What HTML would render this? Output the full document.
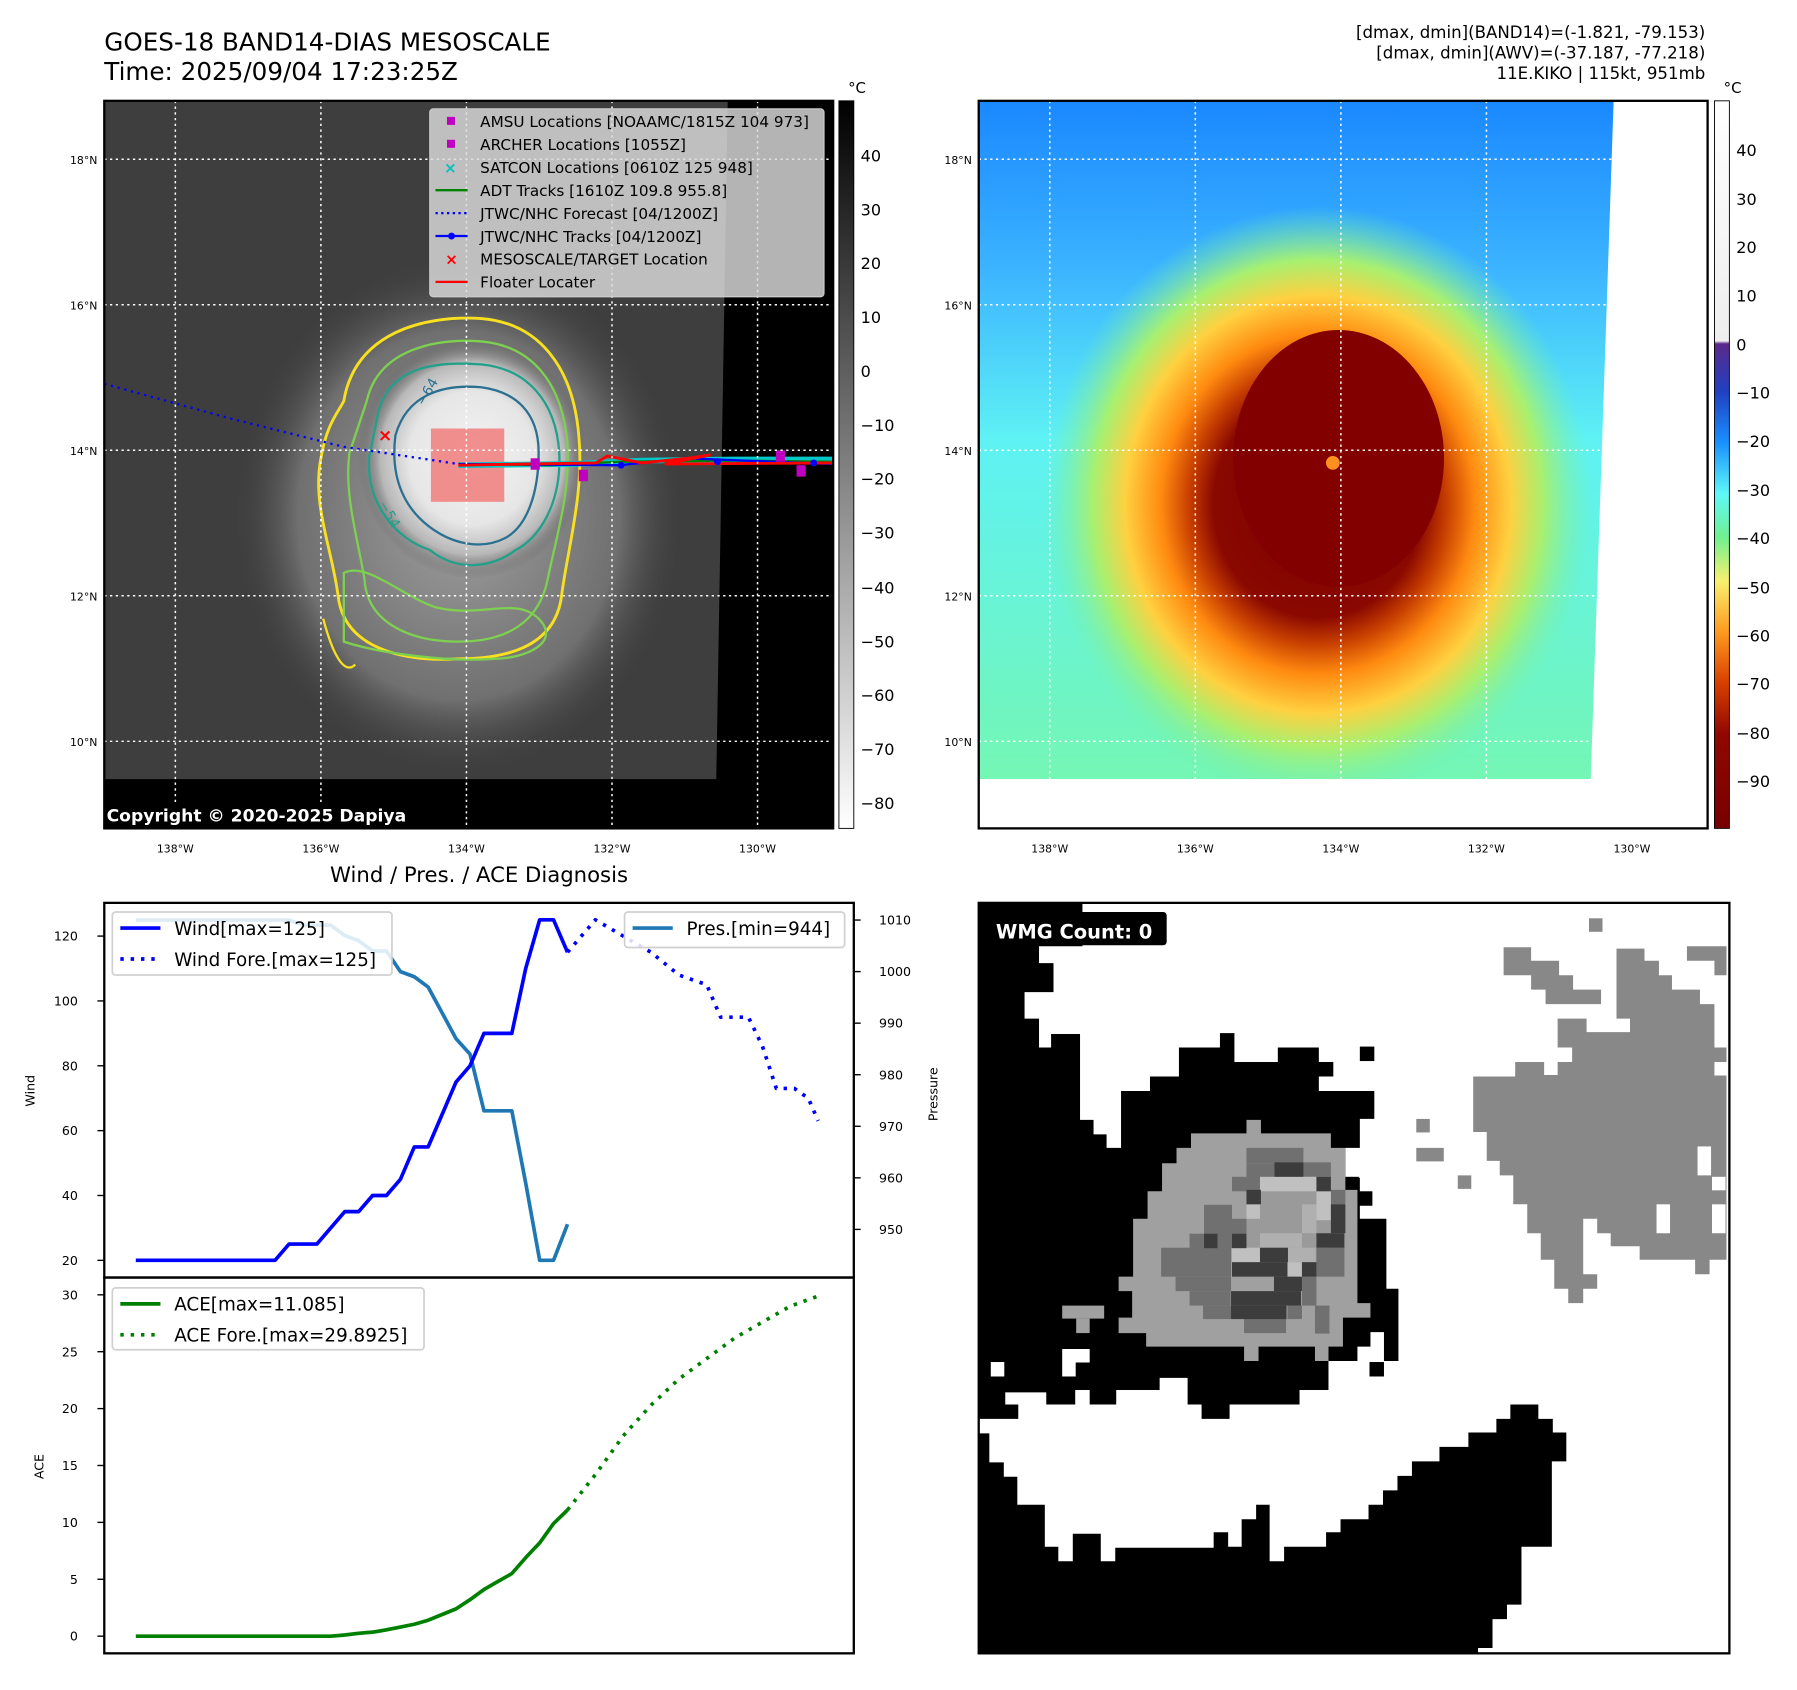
<!DOCTYPE html>
<html><head><meta charset="utf-8"><style>
html,body{margin:0;padding:0;background:#fff;}
svg{display:block;font-family:"DejaVu Sans","Liberation Sans",sans-serif;}
</style></head><body>
<svg id="root" width="1797" height="1690" viewBox="0 0 1568 1475" preserveAspectRatio="none" xmlns="http://www.w3.org/2000/svg">
<defs>
<radialGradient id="core" cx="0.5" cy="0.5" r="0.5">
<stop offset="0" stop-color="#f4f4f4"/><stop offset="0.55" stop-color="#e6e6e6"/><stop offset="0.8" stop-color="#b8b8b8"/><stop offset="1" stop-color="#5a5a5a" stop-opacity="0"/></radialGradient>
<radialGradient id="halo" cx="0.5" cy="0.5" r="0.5">
<stop offset="0" stop-color="#a0a0a0"/><stop offset="0.7" stop-color="#707070"/><stop offset="1" stop-color="#3c3c3c" stop-opacity="0"/></radialGradient>
<linearGradient id="cb1" x1="0" y1="0" x2="0" y2="1"><stop offset="0" stop-color="#000"/><stop offset="1" stop-color="#fff"/></linearGradient>
<linearGradient id="bgcol" x1="0" y1="0" x2="0" y2="1">
<stop offset="0" stop-color="#1a88ff"/><stop offset="0.25" stop-color="#3cb4ff"/><stop offset="0.5" stop-color="#5ef2f4"/><stop offset="1" stop-color="#74f6b4"/></linearGradient>
<radialGradient id="storm" cx="0.5" cy="0.5" r="0.5">
<stop offset="0" stop-color="#7a0000"/><stop offset="0.38" stop-color="#8a0800"/><stop offset="0.47" stop-color="#c84000"/><stop offset="0.57" stop-color="#ff8a10"/><stop offset="0.7" stop-color="#ffd040"/><stop offset="0.82" stop-color="#a8f070"/><stop offset="1" stop-color="#70f0b0" stop-opacity="0"/></radialGradient>
<linearGradient id="cb2" x1="0" y1="0" x2="0" y2="1">
<stop offset="0" stop-color="#ffffff"/><stop offset="0.33" stop-color="#eeeeee"/><stop offset="0.334" stop-color="#5a2a8a"/><stop offset="0.4" stop-color="#2040c0"/><stop offset="0.47" stop-color="#1a90ff"/><stop offset="0.54" stop-color="#5ef8f8"/><stop offset="0.6" stop-color="#70f090"/><stop offset="0.66" stop-color="#f8f070"/><stop offset="0.73" stop-color="#ff9a20"/><stop offset="0.8" stop-color="#d84000"/><stop offset="0.87" stop-color="#900800"/><stop offset="1" stop-color="#780000"/></linearGradient>
</defs>

<text x="91" y="44" font-size="21.5">GOES-18 BAND14-DIAS MESOSCALE</text>
<text x="91" y="70" font-size="21.5">Time: 2025/09/04 17:23:25Z</text>
<g font-size="14.5" text-anchor="end">
<text x="1488" y="33">[dmax, dmin](BAND14)=(-1.821, -79.153)</text>
<text x="1488" y="51">[dmax, dmin](AWV)=(-37.187, -77.218)</text>
<text x="1488" y="69">11E.KIKO | 115kt, 951mb</text>
</g>

<g>
<rect x="91" y="88" width="636" height="635" fill="#000"/>
<polygon points="91,88 635,88 625,680 91,680" fill="#3e3e3e"/>
<ellipse cx="400" cy="450" rx="200" ry="230" fill="url(#halo)"/>
<ellipse cx="412" cy="400" rx="100" ry="105" fill="url(#core)"/>
<path d="M300,350 C310,290 370,275 420,278 C470,282 500,320 505,380 C510,430 495,480 490,520 C485,560 450,575 400,575 C350,578 300,565 295,520 C290,480 272,440 280,400 C285,370 295,360 300,350Z" fill="none" stroke="#f8e020" stroke-width="2.5"/>
<path d="M320,350 C330,305 380,295 420,298 C465,302 490,335 495,385 C498,430 485,470 478,505 C470,545 440,560 400,560 C360,560 320,545 318,505 C312,470 300,430 305,395Z" fill="none" stroke="#7ed050" stroke-width="2"/>
<path d="M330,360 C340,320 380,315 420,318 C460,322 485,350 488,395 C490,440 470,470 450,480 C430,495 400,500 375,480 C345,470 320,440 322,400Z" fill="none" stroke="#22a08a" stroke-width="2"/>
<path d="M345,380 C355,345 385,335 420,338 C450,342 470,360 470,395 C470,430 460,460 440,470 C420,480 395,475 375,460 C355,445 340,420 345,380Z" fill="none" stroke="#2a7090" stroke-width="2"/>
<path d="M300,500 C320,490 350,520 380,530 C420,540 450,520 470,540 C490,560 460,575 430,575 C390,578 330,570 300,560Z" fill="none" stroke="#7ed050" stroke-width="2"/>
<path d="M282,540 C290,570 300,590 310,580" fill="none" stroke="#f8e020" stroke-width="2"/>
<rect x="376" y="374" width="64" height="64" fill="#f08080" opacity="0.88"/>
<polyline points="91,335 200,365 300,390 400,405" fill="none" stroke="#0000ff" stroke-width="2" stroke-dasharray="2,4"/>
<polyline points="400,406 500,405 560,402 640,401 727,401" fill="none" stroke="#00c8c8" stroke-width="5"/>
<polyline points="400,405 480,406 540,403 640,402 727,403" fill="none" stroke="#008000" stroke-width="2"/>
<polyline points="400,405 540,406 600,400 650,402 727,405" fill="none" stroke="#0000ff" stroke-width="2"/>
<polyline points="400,406 520,404 530,398 560,404 600,400 620,397 580,405 727,404" fill="none" stroke="#ff0000" stroke-width="2.5"/>
<g fill="#c000c0"><rect x="463" y="400" width="8" height="10"/><rect x="505" y="410" width="8" height="10"/><rect x="677" y="393" width="8" height="10"/><rect x="695" y="406" width="8" height="10"/></g>
<g fill="#0000ff"><circle cx="542" cy="406" r="3"/><circle cx="626" cy="403" r="3"/><circle cx="710" cy="404" r="3"/></g>
<text x="336" y="385" font-size="15" fill="#ff0000" text-anchor="middle" font-weight="bold">×</text>
<text x="370" y="355" font-size="12" fill="#2a7090" transform="rotate(-60 370 355)">−64</text>
<text x="330" y="440" font-size="12" fill="#22a08a" transform="rotate(60 330 440)">−54</text>
<g stroke="#fff" stroke-width="1.3" stroke-dasharray="2,3">
<line x1="153" y1="88" x2="153" y2="723"/><line x1="280" y1="88" x2="280" y2="723"/><line x1="407" y1="88" x2="407" y2="723"/><line x1="534" y1="88" x2="534" y2="723"/><line x1="661" y1="88" x2="661" y2="723"/>
<line x1="91" y1="139" x2="727" y2="139"/><line x1="91" y1="266" x2="727" y2="266"/><line x1="91" y1="393" x2="727" y2="393"/><line x1="91" y1="520" x2="727" y2="520"/><line x1="91" y1="647" x2="727" y2="647"/>
</g>
<rect x="91" y="700" width="268" height="23" fill="#000"/>
<text x="93" y="717" font-size="15" font-weight="bold" fill="#fff">Copyright © 2020-2025 Dapiya</text>
<rect x="91" y="88" width="636" height="635" fill="none" stroke="#000" stroke-width="2"/>
</g>
<g font-size="13.3">
<rect x="375" y="95" width="344" height="164" rx="3" fill="#dcdcdc" fill-opacity="0.82" stroke="#ccc"/>
<rect x="390" y="102" width="7" height="7" fill="#c000c0"/><text x="419" y="111">AMSU Locations [NOAAMC/1815Z 104 973]</text>
<rect x="390" y="122" width="7" height="7" fill="#c000c0"/><text x="419" y="131">ARCHER Locations [1055Z]</text>
<text x="393" y="151" fill="#00c0c0" text-anchor="middle" font-weight="bold">×</text><text x="419" y="151">SATCON Locations [0610Z 125 948]</text>
<line x1="380" y1="166" x2="408" y2="166" stroke="#008000" stroke-width="2"/><text x="419" y="171">ADT Tracks [1610Z 109.8 955.8]</text>
<line x1="380" y1="186" x2="408" y2="186" stroke="#0000ff" stroke-width="2" stroke-dasharray="2,3"/><text x="419" y="191">JTWC/NHC Forecast [04/1200Z]</text>
<line x1="380" y1="206" x2="408" y2="206" stroke="#0000ff" stroke-width="2"/><circle cx="394" cy="206" r="3" fill="#0000ff"/><text x="419" y="211">JTWC/NHC Tracks [04/1200Z]</text>
<text x="394" y="231" fill="#ff0000" text-anchor="middle" font-weight="bold">×</text><text x="419" y="231">MESOSCALE/TARGET Location</text>
<line x1="380" y1="246" x2="408" y2="246" stroke="#ff0000" stroke-width="2"/><text x="419" y="251">Floater Locater</text>
</g>
<g font-size="9.5">
<g text-anchor="end"><text x="85" y="143">18°N</text><text x="85" y="270">16°N</text><text x="85" y="397">14°N</text><text x="85" y="524">12°N</text><text x="85" y="651">10°N</text>
<text x="848" y="143">18°N</text><text x="848" y="270">16°N</text><text x="848" y="397">14°N</text><text x="848" y="524">12°N</text><text x="848" y="651">10°N</text></g>
<g text-anchor="middle"><text x="153" y="744">138°W</text><text x="280" y="744">136°W</text><text x="407" y="744">134°W</text><text x="534" y="744">132°W</text><text x="661" y="744">130°W</text>
<text x="916" y="744">138°W</text><text x="1043" y="744">136°W</text><text x="1170" y="744">134°W</text><text x="1297" y="744">132°W</text><text x="1424" y="744">130°W</text></g>
</g>
<g font-size="14">
<rect x="732" y="88" width="13" height="635" fill="url(#cb1)" stroke="#000" stroke-width="0.8"/>
<text x="740" y="81" font-size="13">°C</text>
<text x="751" y="141">40</text><text x="751" y="188">30</text><text x="751" y="235">20</text><text x="751" y="282">10</text><text x="751" y="329">0</text><text x="751" y="376">−10</text><text x="751" y="423">−20</text><text x="751" y="470">−30</text><text x="751" y="518">−40</text><text x="751" y="565">−50</text><text x="751" y="612">−60</text><text x="751" y="659">−70</text><text x="751" y="706">−80</text>
</g>

<g>
<clipPath id="cm"><polygon points="854,88 1408,88 1388,680 854,680"/></clipPath>
<g clip-path="url(#cm)">
<rect x="854" y="88" width="554" height="592" fill="url(#bgcol)"/>
<ellipse cx="1150" cy="440" rx="240" ry="260" fill="url(#storm)"/>
<ellipse cx="1168" cy="400" rx="92" ry="112" fill="#820000"/>
<circle cx="1163" cy="404" r="6" fill="#ff9020"/>
</g>
<g stroke="#fff" stroke-width="1.3" stroke-dasharray="2,3">
<line x1="916" y1="88" x2="916" y2="680"/><line x1="1043" y1="88" x2="1043" y2="680"/><line x1="1170" y1="88" x2="1170" y2="680"/><line x1="1297" y1="88" x2="1297" y2="680"/><line x1="1424" y1="88" x2="1424" y2="110"/>
<line x1="854" y1="139" x2="1408" y2="139"/><line x1="854" y1="266" x2="1402" y2="266"/><line x1="854" y1="393" x2="1398" y2="393"/><line x1="854" y1="520" x2="1394" y2="520"/><line x1="854" y1="647" x2="1389" y2="647"/>
</g>
<rect x="854" y="88" width="636" height="635" fill="none" stroke="#000" stroke-width="2"/>
</g>
<g font-size="14">
<rect x="1496" y="88" width="13" height="635" fill="url(#cb2)" stroke="#000" stroke-width="0.8"/>
<text x="1504" y="81" font-size="13">°C</text>
<text x="1515" y="136">40</text><text x="1515" y="179">30</text><text x="1515" y="221">20</text><text x="1515" y="263">10</text><text x="1515" y="306">0</text><text x="1515" y="348">−10</text><text x="1515" y="390">−20</text><text x="1515" y="433">−30</text><text x="1515" y="475">−40</text><text x="1515" y="518">−50</text><text x="1515" y="560">−60</text><text x="1515" y="602">−70</text><text x="1515" y="645">−80</text><text x="1515" y="687">−90</text>
</g>

<text x="418" y="770" font-size="18.5" text-anchor="middle">Wind / Pres. / ACE Diagnosis</text>
<g id="charts"></g>

<g>
<svg x="854" y="788" width="655" height="655" viewBox="0 0 1556 1556" preserveAspectRatio="none">
<rect width="1556" height="1556" fill="#fff"/>
<polygon fill="#000" points="0,0 215,0 215,90 125,90 125,125 155,125 155,185 95,185 95,240 125,240 125,300 150,300 150,272 210,272 210,450 238,450 238,480 265,480 265,508 295,508 295,390 355,390 355,360 415,360 415,300 500,300 500,270 530,270 530,330 620,330 620,300 705,300 705,330 735,330 735,360 705,360 705,390 820,390 820,448 790,448 790,508 760,508 760,570 790,570 790,655 845,655 845,800 870,800 870,950 840,950 840,890 812,890 812,920 785,920 785,950 725,950 725,1010 665,1010 665,1040 520,1040 520,1070 462,1070 462,1040 433,1040 433,985 375,985 375,1010 285,1010 285,1040 230,1040 230,1010 200,1010 200,1040 140,1040 140,1015 55,1015 55,1040 82,1040 82,1070 0,1070"/>
<polygon fill="#000" points="0,1100 22,1100 22,1160 52,1160 52,1190 80,1190 80,1248 137,1248 137,1335 165,1335 165,1365 195,1365 195,1308 253,1308 253,1365 283,1365 283,1337 487,1337 487,1305 517,1305 517,1335 545,1335 545,1278 575,1278 575,1248 603,1248 603,1365 633,1365 633,1335 720,1335 720,1305 750,1305 750,1278 808,1278 808,1248 838,1248 838,1218 868,1218 868,1188 898,1188 898,1158 955,1158 955,1128 1015,1128 1015,1098 1073,1098 1073,1070 1102,1070 1102,1040 1160,1040 1160,1070 1190,1070 1190,1098 1218,1098 1218,1158 1188,1158 1188,1335 1125,1335 1125,1455 1095,1455 1095,1485 1065,1485 1065,1545 1035,1545 1035,1556 0,1556"/>
<g fill="#fff"><rect x="25" y="952" width="28" height="30"/><rect x="173" y="925" width="57" height="28"/><rect x="173" y="952" width="28" height="30"/></g>
<g fill="#000"><rect x="790" y="298" width="30" height="30"/><rect x="760" y="568" width="28" height="30"/><rect x="788" y="598" width="28" height="30"/><rect x="810" y="952" width="30" height="30"/></g>
<g fill="#888">
<polygon points="1025,360 1112,360 1112,330 1172,330 1172,357 1200,357 1200,330 1230,330 1230,300 1200,300 1200,240 1260,240 1260,268 1350,268 1350,240 1322,240 1322,95 1380,95 1380,120 1410,120 1410,150 1437,150 1437,180 1495,180 1495,210 1525,210 1525,300 1550,300 1550,740 1515,740 1515,770 1485,770 1485,740 1370,740 1370,712 1310,712 1310,685 1282,685 1282,655 1253,655 1253,770 1282,770 1282,800 1253,800 1253,830 1222,830 1222,800 1193,800 1193,740 1165,740 1165,685 1137,685 1137,625 1108,625 1108,565 1080,565 1080,535 1053,535 1053,475 1025,475"/>
<polygon points="1088,92 1145,92 1145,120 1203,120 1203,150 1232,150 1232,180 1290,180 1290,210 1175,210 1175,180 1145,180 1145,150 1088,150"/>
<polygon points="1468,90 1550,90 1550,150 1525,150 1525,120 1468,120"/>
<rect x="1265" y="32" width="28" height="28"/><rect x="907" y="448" width="28" height="28"/><rect x="907" y="508" width="57" height="28"/><rect x="993" y="565" width="28" height="28"/>
</g>
<g fill="#fff"><rect x="1490" y="505" width="28" height="60"/><rect x="1520" y="568" width="28" height="28"/><rect x="1405" y="625" width="28" height="60"/><rect x="1520" y="625" width="28" height="60"/><rect x="1525" y="330" width="25" height="28"/></g>
<polygon fill="#a0a0a0" points="555,450 585,450 585,478 730,478 730,508 760,508 760,595 785,595 785,830 812,830 812,860 755,860 755,920 725,920 725,950 697,950 697,920 580,920 580,950 550,950 550,920 347,920 347,892 290,892 290,860 318,860 318,805 290,805 290,775 320,775 320,655 350,655 350,598 380,598 380,540 410,540 410,508 440,508 440,478 555,478"/>
<rect x="173" y="835" width="87" height="27" fill="#a0a0a0"/><rect x="202" y="862" width="28" height="30" fill="#a0a0a0"/>
<g fill="#707070"><rect x="555" y="508" width="118" height="32"/><rect x="555" y="540" width="58" height="30"/><rect x="672" y="538" width="58" height="30"/><rect x="525" y="568" width="60" height="30"/><rect x="467" y="626" width="58" height="30"/><rect x="467" y="655" width="90" height="32"/><rect x="437" y="686" width="30" height="30"/><rect x="495" y="686" width="30" height="30"/><rect x="378" y="715" width="145" height="60"/><rect x="408" y="775" width="115" height="30"/><rect x="437" y="805" width="85" height="30"/><rect x="465" y="835" width="58" height="28"/><rect x="700" y="715" width="58" height="60"/><rect x="670" y="775" width="30" height="60"/><rect x="640" y="835" width="30" height="28"/><rect x="697" y="835" width="30" height="58"/><rect x="550" y="862" width="87" height="30"/><rect x="730" y="595" width="30" height="30"/></g>
<g fill="#9a9a9a"><rect x="555" y="598" width="175" height="117"/></g>
<g fill="#c0c0c0"><rect x="583" y="568" width="117" height="30"/><rect x="525" y="715" width="58" height="30"/><rect x="640" y="745" width="30" height="30"/><rect x="700" y="598" width="30" height="60"/><rect x="555" y="625" width="28" height="30"/></g>
<g fill="#b0b0b0"><rect x="583" y="685" width="87" height="30"/><rect x="640" y="715" width="58" height="30"/><rect x="670" y="625" width="30" height="60"/></g>
<g fill="#3c3c3c"><rect x="613" y="538" width="60" height="30"/><rect x="700" y="568" width="30" height="30"/><rect x="555" y="595" width="30" height="30"/><rect x="730" y="625" width="30" height="60"/><rect x="700" y="685" width="58" height="30"/><rect x="467" y="686" width="28" height="30"/><rect x="525" y="686" width="30" height="30"/><rect x="583" y="715" width="58" height="30"/><rect x="525" y="745" width="115" height="30"/><rect x="670" y="745" width="30" height="30"/><rect x="612" y="775" width="58" height="30"/><rect x="523" y="805" width="145" height="30"/><rect x="523" y="835" width="115" height="28"/></g>
</svg>
<rect x="854" y="796" width="164" height="29" rx="3" fill="#000"/>
<text x="869" y="819" font-size="17" font-weight="bold" fill="#fff">WMG Count: 0</text>
<rect x="854" y="788" width="655" height="655" fill="none" stroke="#000" stroke-width="2"/>
</g>
</svg>
<script>
const obsIdx = Array.from({length:32},(_,i)=>i);
const windObs = [20,20,20,20,20,20,20,20,20,20,20,25,25,25,30,35,35,40,40,45,55,55,65,75,80,90,90,90,110,125,125,115];
const presObs = [1010,1010,1010,1010,1010,1010,1010,1010,1010,1010,1010,1010,1009,1009,1009,1007,1006,1004,1004,1000,999,997,992,987,984,973,973,973,959,944,944,951];
const aceObs = [0,0,0,0,0,0,0,0,0,0,0,0,0,0,0,0.1,0.25,0.35,0.55,0.8,1.05,1.4,1.9,2.4,3.2,4.1,4.8,5.5,6.9,8.2,9.9,11.085];
const foreIdx = [31,32,33,35,37,39,41,42,44,45,46,47.3,48.3,49];
const windFore = [115,120,125,120,115,108,105,95,95,86,73,73,70,63];
const aceForeIdx = [31,33,35,37,39,41,43,45,47,49];
const aceFore = [11.085,14.2,17.6,20.3,22.6,24.4,26.2,27.6,29,29.8925];
const windTicks = [20,40,60,80,100,120];
const presTicks = [950,960,970,980,990,1000,1010];
const aceTicks = [0,5,10,15,20,25,30];

const NS='http://www.w3.org/2000/svg';
const xS = i => 118.5 + 12.15*i;
const yW = v => 1100 - (v-20)*2.83;
const yP = p => 803 + (1010-p)*4.5;
const yA = a => 1428 - a*9.93;
const g = document.getElementById('charts');
function mk(tag, attrs, parent){const e=document.createElementNS(NS,tag);for(const k in attrs)e.setAttribute(k,attrs[k]);(parent||g).appendChild(e);return e;}
function line(xs, ys, color, dash, name){
  const pts = xs.map((x,k)=>xS(x).toFixed(1)+','+ys[k].toFixed(1)).join(' ');
  const p = mk('polyline',{points:pts,fill:'none',stroke:color,'stroke-width':3.2,'stroke-linejoin':'round'});
  if(dash) p.setAttribute('stroke-dasharray',dash);
  
  
}
const f1 = mk('rect',{x:91,y:788,width:654,height:327,fill:'none',stroke:'#000','stroke-width':2});


const f2 = mk('rect',{x:91,y:1115,width:654,height:328,fill:'none',stroke:'#000','stroke-width':2});


windTicks.forEach(v=>{
  mk('line',{x1:85,x2:91,y1:yW(v),y2:yW(v),stroke:'#000','stroke-width':1.2});
  const t=mk('text',{x:68,y:yW(v)+4,'font-size':11,'text-anchor':'end'});t.textContent=v;
  
  
});
presTicks.forEach(v=>{
  mk('line',{x1:745,x2:751,y1:yP(v),y2:yP(v),stroke:'#000','stroke-width':1.2});
  const t=mk('text',{x:767,y:yP(v)+4,'font-size':11});t.textContent=v;
  
  
});
aceTicks.forEach(v=>{
  mk('line',{x1:85,x2:91,y1:yA(v),y2:yA(v),stroke:'#000','stroke-width':1.2});
  const t=mk('text',{x:68,y:yA(v)+4,'font-size':11,'text-anchor':'end'});t.textContent=v;
  
  
});
[['Wind',30,952,'wind-axis-title'],['ACE',38,1280,'ace-axis-title'],['Pressure',818,955,'pressure-axis-title']].forEach(a=>{
  const t=mk('text',{x:a[1],y:a[2],'font-size':11,'text-anchor':'middle',transform:`rotate(-90 ${a[1]} ${a[2]})`});t.textContent=a[0];
  
  
});
line(obsIdx, presObs.map(yP), '#1f77b4', null, 'pressure-line');
line(obsIdx, windObs.map(yW), '#0000ff', null, 'wind-line');
line(foreIdx, windFore.map(yW), '#0000ff', '3,6', 'wind-forecast-line');
line(obsIdx, aceObs.map(yA), '#008000', null, 'ace-line');
line(aceForeIdx, aceFore.map(yA), '#008000', '3,6', 'ace-forecast-line');
function legend(x,y,w,h,items,name){
  const lg = mk('g',{});
  
  
  mk('rect',{x:x,y:y,width:w,height:h,rx:3,fill:'#fff','fill-opacity':0.85,stroke:'#d0d0d0','stroke-width':1.5},lg);
  items.forEach((it,k)=>{
    const yy=y+14+k*27;
    const l=mk('line',{x1:x+7,x2:x+42,y1:yy,y2:yy,stroke:it[1],'stroke-width':3.2},lg);
    if(it[2]) l.setAttribute('stroke-dasharray','3,6');
    const t=mk('text',{x:x+54,y:yy+6,'font-size':16},lg);t.textContent=it[0];
  });
}
legend(98,796,244,55,[['Wind[max=125]','#0000ff',false],['Wind Fore.[max=125]','#0000ff',true]],'wind-legend');
legend(545,796,192,31,[['Pres.[min=944]','#1f77b4',false]],'pressure-legend');
legend(98,1124,272,54,[['ACE[max=11.085]','#008000',false],['ACE Fore.[max=29.8925]','#008000',true]],'ace-legend');
</script>
</body></html>
